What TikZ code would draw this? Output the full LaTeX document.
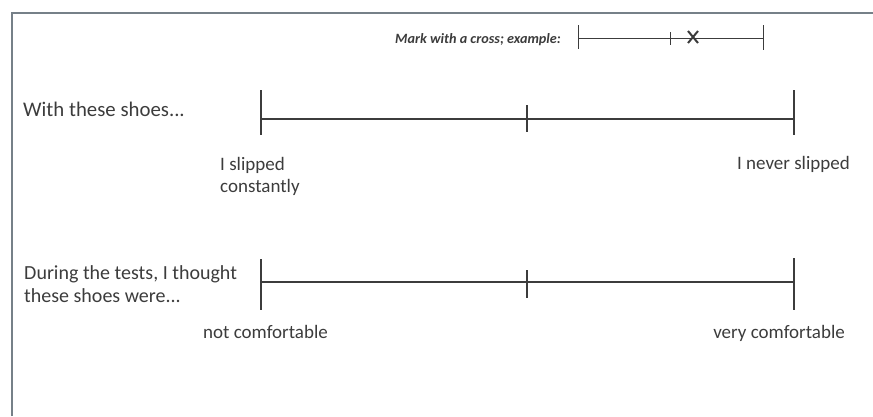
\documentclass[tikz,border=0pt]{standalone}
\usepackage{fontspec}
\setmainfont{Carlito}
\definecolor{framegray}{RGB}{118,128,136}
\definecolor{inkgray}{RGB}{60,60,60}
\tikzset{
  scaleline/.style={inkgray, line width=1.3pt},
  formtext/.style={inkgray, inner sep=0pt, font=\fontsize{19}{22}\selectfont},
  twoline/.style={formtext, align=left, anchor=north west},
}
\begin{document}
\begin{tikzpicture}[x=1pt,y=-1pt]
  \useasboundingbox (0,0) rectangle (873,416);
  % sheet frame
  \draw [framegray, line width=2.5pt] (12,416)--(12,13)--(873,13);
  % example scale
  \node (mark) [formtext, anchor=base east, font=\bfseries\itshape\fontsize{14.2}{16}\selectfont] at (561,43) {Mark with a cross; example:};
  \draw [scaleline, line width=1pt] (578,38)--(763,38);
  \draw [scaleline, line width=1pt] (578,25)--(578,49); \draw [scaleline, line width=1pt] (670,32)--(670,45); \draw [scaleline, line width=1pt] (763,25)--(763,50);
  \draw [scaleline, line width=2pt] (688,31)--(698,43); \draw [scaleline, line width=2pt] (698,31)--(688,43);
  % first question
  \node (shoes) [formtext, anchor=base west, font=\fontsize{20.8}{24}\selectfont] at (23,116) {With these shoes...};
  \draw [scaleline, line width=1.5pt] (261,119)--(794,119);
  \draw [scaleline] (261,90)--(261,135); \draw [scaleline] (527,105)--(527,132); \draw [scaleline] (794,90)--(794,135);
  \node (slipped) [twoline] at (220,157) {I slipped\\constantly};
  \node (never) [formtext, anchor=base east] at (850,169) {I never slipped};
  % second question
  \node (tests) [twoline, font=\fontsize{20}{23}\selectfont] at (24,265) {During the tests, I thought\\these shoes were...};
  \draw [scaleline, line width=1.1pt] (261,282)--(794,282);
  \draw [scaleline] (261,259)--(261,310); \draw [scaleline] (527,270)--(527,298); \draw [scaleline] (794,258)--(794,310);
  \node (notcomf) [formtext, anchor=base west] at (203,338) {not comfortable};
  \node (verycomf) [formtext, anchor=base east] at (845,338) {very comfortable};
\end{tikzpicture}
\end{document}
